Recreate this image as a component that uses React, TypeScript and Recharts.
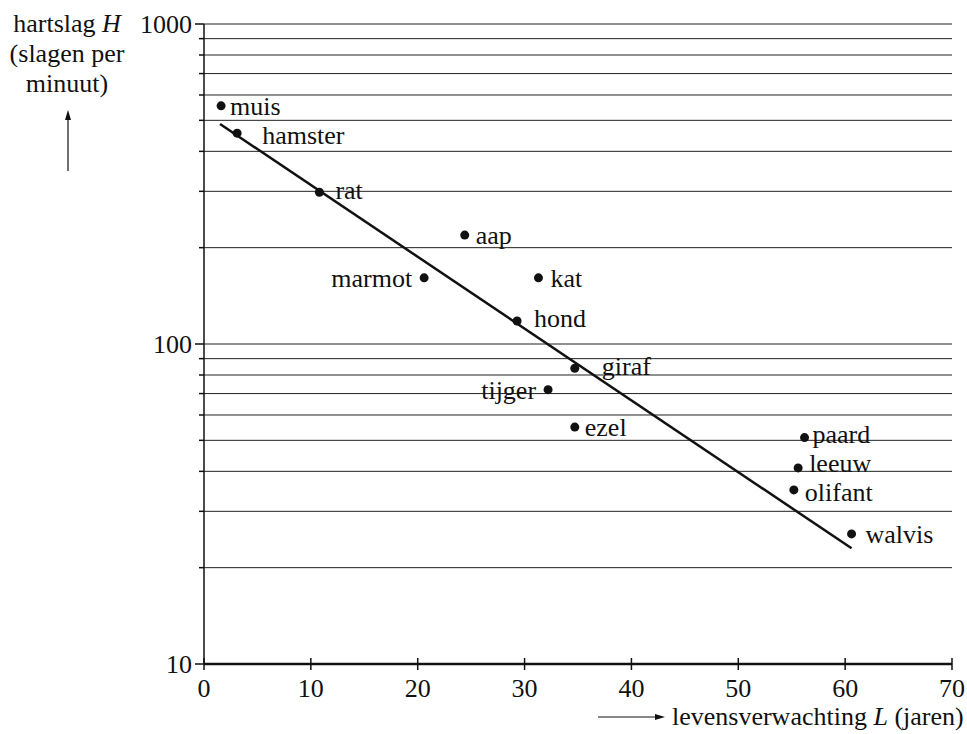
import React from "react";
import { CartesianGrid, ComposedChart, Scatter, XAxis, YAxis } from "recharts";

// levensverwachting L (jaren) en hartslag H (slagen per minuut)
const animals = ["muis", "hamster", "rat", "aap", "marmot", "kat", "hond", "giraf", "tijger", "ezel", "paard", "leeuw", "olifant", "walvis"];
const lifespan = [1.6, 3.1, 10.8, 24.4, 20.6, 31.3, 29.3, 34.7, 32.2, 34.7, 56.2, 55.6, 55.2, 60.6];
const heartRate = [555, 456, 298, 219, 161, 161, 118, 84, 72, 55, 51, 41, 35, 25.5];

// fitted trend line end points
const fitL = [1.5, 60.6];
const fitH = [487, 23];

const xTicks = [0, 10, 20, 30, 40, 50, 60, 70];
const yTicks = [10, 20, 30, 40, 50, 60, 70, 80, 90, 100, 200, 300, 400, 500, 600, 700, 800, 900, 1000];
const yLabelled = [10, 100, 1000];

// label placement next to each dot (layout only)
const labelDx: Record<string, number> = {
  muis: 9, hamster: 25, rat: 16, aap: 11, marmot: -12, kat: 12, hond: 17,
  giraf: 27, tijger: -12, ezel: 10, paard: 8, leeuw: 11, olifant: 11, walvis: 14,
};
const labelDy: Record<string, number> = { hamster: 2, rat: -2, hond: -3, giraf: -2, paard: -4, leeuw: -5, olifant: 2 };

const points = animals.map((name, i) => ({ name, L: lifespan[i], H: heartRate[i] }));
const fitLine = fitL.map((L, i) => ({ L, H: fitH[i] }));

const FONT = '"Liberation Serif", "Times New Roman", serif';
const INK = "#111";
const FS = 26;

const YTick = (props: any) => {
  const { x, y, payload } = props;
  const major = yLabelled.includes(payload.value);
  return (
    <g>
      <line x1={x - (major ? 9 : 5)} x2={x} y1={y} y2={y} stroke={INK} strokeWidth={1.5} />
      {major && (
        <text x={x - 12} y={y} dy="0.35em" textAnchor="end" fontSize={FS} fontFamily={FONT} fill={INK}>
          {payload.value}
        </text>
      )}
    </g>
  );
};

const XTick = (props: any) => {
  const { x, y, payload } = props;
  return (
    <g>
      <line x1={x} x2={x} y1={y - 6} y2={y + 6} stroke={INK} strokeWidth={1.5} />
      <text x={x} y={y + 24} dy="0.35em" textAnchor="middle" fontSize={FS} fontFamily={FONT} fill={INK}>
        {payload.value}
      </text>
    </g>
  );
};

const AnimalDot = (props: any) => {
  const { cx, cy, payload } = props;
  const dx = labelDx[payload.name] ?? 10;
  const dy = labelDy[payload.name] ?? 0;
  return (
    <g>
      <circle cx={cx} cy={cy} r={4.5} fill={INK} />
      <text
        x={cx + dx}
        y={cy + dy}
        dy="0.35em"
        textAnchor={dx < 0 ? "end" : "start"}
        fontSize={FS}
        fontFamily={FONT}
        fill={INK}
      >
        {payload.name}
      </text>
    </g>
  );
};

const NoDot = () => <g />;

export default function App() {
  return (
    <div style={{ position: "relative", width: 967, height: 734, fontFamily: FONT, color: INK }}>
      {/* the figure runs to the page edges, so drop the default body margin */}
      <style>{"body{margin:0}"}</style>
      <ComposedChart
        width={967}
        height={734}
        margin={{ top: 24, right: 15, bottom: 40, left: 0 }}
        style={{ overflow: "visible" }}
      >
        <CartesianGrid vertical={false} stroke="#222" strokeWidth={1} />
        <XAxis
          type="number"
          dataKey="L"
          domain={[0, 70]}
          ticks={xTicks}
          tick={<XTick />}
          tickSize={0}
          tickMargin={0}
          tickLine={false}
          height={30}
          axisLine={{ stroke: INK, strokeWidth: 2.5 }}
        />
        <YAxis
          type="number"
          dataKey="H"
          scale="log"
          domain={[10, 1000]}
          ticks={yTicks}
          tick={<YTick />}
          tickSize={0}
          tickMargin={0}
          tickLine={false}
          width={204}
          interval={0}
          allowDataOverflow
          axisLine={{ stroke: INK, strokeWidth: 1.5 }}
        />
        <Scatter
          data={fitLine}
          line={{ stroke: INK, strokeWidth: 2.5 }}
          shape={<NoDot />}
          isAnimationActive={false}
        />
        <Scatter data={points} shape={<AnimalDot />} isAnimationActive={false} />
      </ComposedChart>

      <div style={{ position: "absolute", left: -13, top: 9, fontSize: FS, lineHeight: "30px", textAlign: "center", width: 160 }}>
        <div>
          hartslag <i>H</i>
        </div>
        <div>(slagen per</div>
        <div>minuut)</div>
      </div>
      <svg style={{ position: "absolute", left: 58, top: 109 }} width={20} height={64}>
        <line x1={10} y1={62} x2={10} y2={8} stroke={INK} strokeWidth={1.2} />
        <polygon points="10,1 7,11 13,11" fill={INK} />
      </svg>

      <div style={{ position: "absolute", left: 596, top: 702, fontSize: FS, lineHeight: "30px", whiteSpace: "nowrap", display: "flex", alignItems: "center" }}>
        <svg width={70} height={12} style={{ marginRight: 6 }}>
          <line x1={2} y1={6} x2={62} y2={6} stroke={INK} strokeWidth={1.2} />
          <polygon points="69,6 59,3 59,9" fill={INK} />
        </svg>
        <span>
          levensverwachting <i>L</i> (jaren)
        </span>
      </div>
    </div>
  );
}
